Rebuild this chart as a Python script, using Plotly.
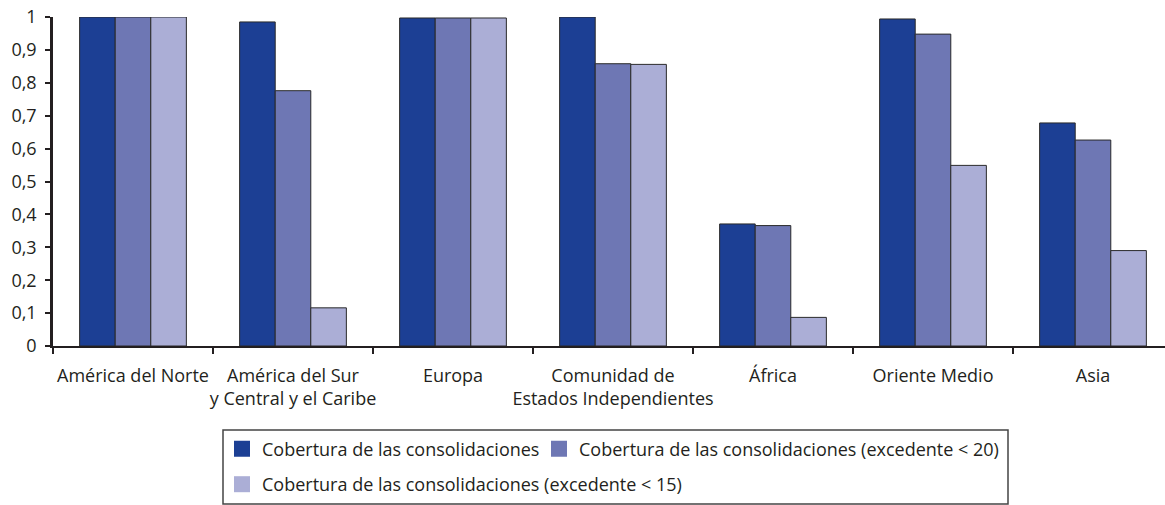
import plotly.graph_objects as go

categories = ["América del Norte", "América del Sur<br>y Central y el Caribe", "Europa",
              "Comunidad de<br>Estados Independientes", "África", "Oriente Medio", "Asia"]
series_names = ["Cobertura de las consolidaciones",
                "Cobertura de las consolidaciones (excedente < 20)",
                "Cobertura de las consolidaciones (excedente < 15)"]
cobertura = [1.0, 0.985, 0.997, 1.0, 0.371, 0.994, 0.678]
cobertura_20 = [1.0, 0.776, 0.997, 0.858, 0.366, 0.948, 0.626]
cobertura_15 = [1.0, 0.116, 0.997, 0.856, 0.087, 0.549, 0.290]
y_ticks = [0, 0.1, 0.2, 0.3, 0.4, 0.5, 0.6, 0.7, 0.8, 0.9, 1]

colors = ["#1C3F94", "#6E77B4", "#ABAED6"]
FONT = "Open Sans"
TXT = "#231F20"
FS = 18

# page body margin removed below (post_script), so screen px = figure px
W, H = 1165, 505
L, T = 53, 17
B = H - 346
pw = 1112
R = W - L - pw
ph = H - T - B

def px_x(p):
    return (p - L) / pw

def px_y(p):
    return (H - B - p) / ph

fig = go.Figure()
for name, vals, col in zip(series_names, [cobertura, cobertura_20, cobertura_15], colors):
    fig.add_trace(go.Bar(x=categories, y=vals, name=name, showlegend=False,
                         marker=dict(color=col, line=dict(color="#2A2A2A", width=1))))

# legend entries (one legend per entry for exact placement)
legend_ids = ["legend", "legend2", "legend3"]
for name, col, lg in zip(series_names, colors, legend_ids):
    fig.add_trace(go.Scatter(x=[None], y=[None], mode="markers", name=name,
                             marker=dict(symbol="square", size=16, color=col, line=dict(width=0)),
                             legend=lg))

leg_common = dict(orientation="h", xanchor="left", yanchor="middle",
                  font=dict(size=FS, color=TXT), bgcolor="rgba(0,0,0,0)", borderwidth=0)

fig.update_layout(
    width=W, height=H,
    margin=dict(l=L, r=R, t=T, b=B, autoexpand=False),
    barmode="group", bargap=0.333, bargroupgap=0,
    plot_bgcolor="white", paper_bgcolor="white",
    separators=", ",
    font=dict(family=FONT, size=FS, color=TXT),
    xaxis=dict(range=[-0.5, 6.45], showline=True, linecolor=TXT, linewidth=2,
               ticks="outside", tickson="boundaries", ticklen=6, tickwidth=1.5, tickcolor=TXT,
               showgrid=False, zeroline=False, tickfont=dict(size=FS, color=TXT),
               tickangle=0, automargin=False, ticklabelstandoff=12),
    yaxis=dict(range=[0, 1], tickvals=y_ticks, tickformat="~g", showline=True, linecolor=TXT,
               linewidth=2.5, ticks="outside", ticklen=5, tickwidth=1.5, tickcolor=TXT,
               showgrid=False, zeroline=False, tickfont=dict(size=FS, color=TXT),
               ticklabelstandoff=5, automargin=False, ticklabeloverflow="allow"),
    legend=dict(x=px_x(222), y=px_y(449), **leg_common),
    legend2=dict(x=px_x(539), y=px_y(449), **leg_common),
    legend3=dict(x=px_x(222), y=px_y(484.5), **leg_common),
    shapes=[dict(type="rect", xref="paper", yref="paper", x0=px_x(223), x1=px_x(1008),
                 y0=px_y(504), y1=px_y(430), line=dict(color="#444444", width=1.5))],
)

fig.write_html("out.html", config={"displayModeBar": False},
               post_script="document.body.style.margin='0';")
